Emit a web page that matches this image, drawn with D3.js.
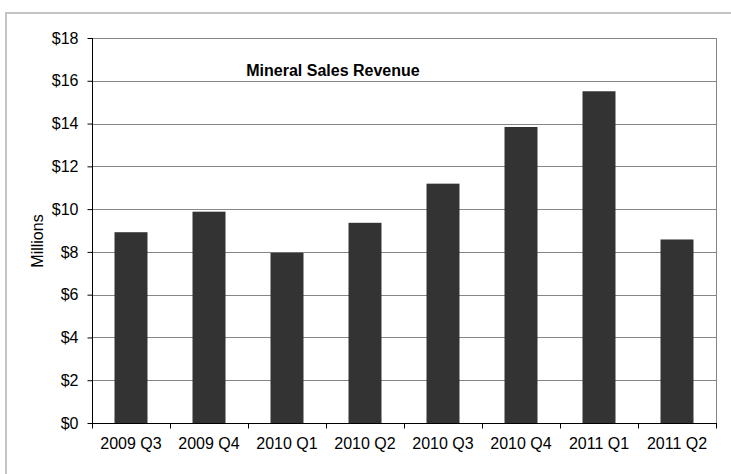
<!DOCTYPE html>
<html>
<head>
<meta charset="utf-8">
<script src="https://cdn.jsdelivr.net/npm/d3@7"></script>
<style>
  body { margin: 0; background: #fff; }
  svg text { font-family: Arial, "Liberation Sans", sans-serif; fill: #000; }
</style>
</head>
<body>
<div id="chart"></div>
<script>
// quarterly mineral sales, in millions
var quarters = ["2009 Q3", "2009 Q4", "2010 Q1", "2010 Q2", "2010 Q3", "2010 Q4", "2011 Q1", "2011 Q2"];
var revenue = [8.92, 9.88, 7.96, 9.36, 11.19, 13.84, 15.51, 8.58];
var yTicks = [0, 2, 4, 6, 8, 10, 12, 14, 16, 18];

var width = 731, height = 474;
var margin = {left: 92, right: 15, top: 38, bottom: 51};

var svg = d3.select("#chart").append("svg")
  .attr("width", width)
  .attr("height", height);

// outer chart frame, runs off the right and bottom edge
svg.append("path")
  .attr("d", "M6," + height + " V13 H" + width)
  .attr("fill", "none")
  .attr("stroke", "#c4c4c4")
  .attr("stroke-width", 2);

var x = d3.scaleBand()
  .domain(quarters)
  .range([margin.left, width - margin.right])
  .paddingInner(0.577)
  .paddingOuter(0.2885);

var y = d3.scaleLinear()
  .domain([0, 18])
  .range([height - margin.bottom, margin.top]);

var step = x.step();
var plotRight = width - margin.right;

// gridlines
svg.append("g").selectAll("line")
  .data(yTicks.filter(function(d){ return d > 0; }))
  .enter().append("line")
    .attr("x1", margin.left).attr("x2", plotRight)
    .attr("y1", function(d){ return Math.round(y(d)) + 0.5; })
    .attr("y2", function(d){ return Math.round(y(d)) + 0.5; })
    .attr("stroke", "#868686");

// right edge of plot area
svg.append("line")
  .attr("x1", plotRight + 0.5).attr("x2", plotRight + 0.5)
  .attr("y1", y(18)).attr("y2", y(0))
  .attr("stroke", "#868686");

// bars
svg.append("g").selectAll("rect")
  .data(revenue)
  .enter().append("rect")
    .attr("x", function(d, i){ return x(quarters[i]); })
    .attr("width", x.bandwidth())
    .attr("y", function(d){ return y(d); })
    .attr("height", function(d){ return y(0) - y(d); })
    .attr("fill", "#333333");

// y axis
var yAxis = d3.axisLeft(y)
  .tickValues(yTicks)
  .tickSize(5)
  .tickPadding(9)
  .tickFormat(function(d){ return "$" + d; });

var gy = svg.append("g")
  .attr("transform", "translate(" + (margin.left + 0.5) + ",0)")
  .call(yAxis);
gy.selectAll("text").style("font-size", "16px").attr("fill", "#000");
gy.selectAll("line").attr("stroke", "#000");
gy.select(".domain").attr("stroke", "#000").attr("d", "M0," + y(18) + "V" + y(0));

// x axis, ticks sit between categories
var gx = svg.append("g")
  .attr("transform", "translate(0," + (Math.round(y(0)) + 0.5) + ")");
gx.append("line")
  .attr("x1", margin.left).attr("x2", plotRight + 1)
  .attr("stroke", "#000");
gx.selectAll(".tick")
  .data(quarters.concat([null]))
  .enter().append("line")
    .attr("x1", function(d, i){ return Math.round(margin.left + i * step) + 0.5; })
    .attr("x2", function(d, i){ return Math.round(margin.left + i * step) + 0.5; })
    .attr("y1", 0).attr("y2", 5)
    .attr("stroke", "#000");
gx.selectAll("text")
  .data(quarters)
  .enter().append("text")
    .attr("x", function(d){ return x(d) + x.bandwidth() / 2; })
    .attr("y", 25)
    .attr("text-anchor", "middle")
    .style("font-size", "16px")
    .text(function(d){ return d; });

// axis title
svg.append("text")
  .attr("transform", "translate(43,241) rotate(-90)")
  .attr("text-anchor", "middle")
  .style("font-size", "16px")
  .text("Millions");

// chart title
svg.append("text")
  .attr("x", 333)
  .attr("y", 76)
  .attr("text-anchor", "middle")
  .style("font-size", "16px")
  .style("font-weight", "bold")
  .text("Mineral Sales Revenue");
</script>
</body>
</html>
